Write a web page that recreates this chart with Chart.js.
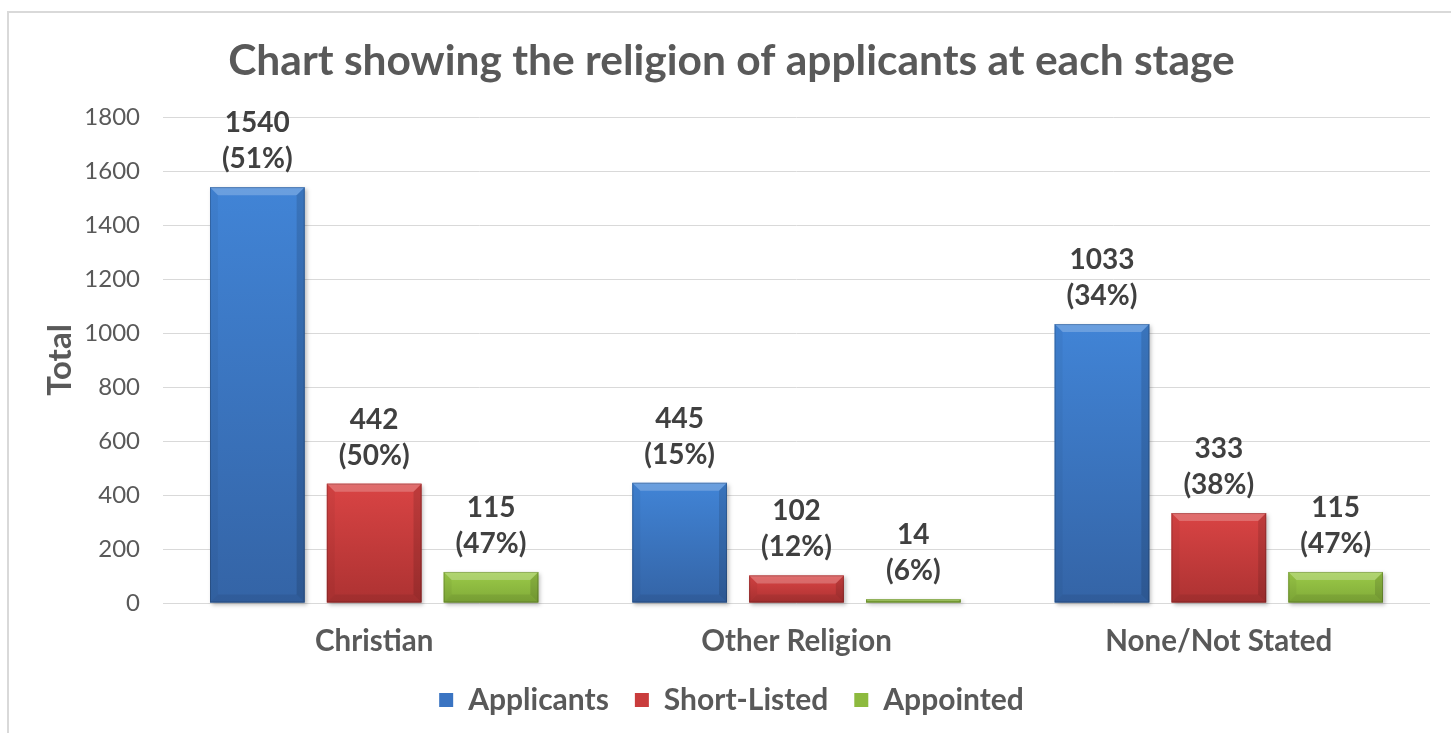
<!DOCTYPE html>
<html>
<head>
<meta charset="utf-8">
<script src="https://cdn.jsdelivr.net/npm/chart.js@4.4.0/dist/chart.umd.min.js"></script>
<style>
  html, body { margin: 0; padding: 0; background: #fff; }
  #wrap { position: relative; width: 1451px; height: 733px; overflow: hidden; }
  #frame { position: absolute; left: 7px; top: 11px; width: 1460px; height: 740px;
           border-left: 2px solid #d9d9d9; border-top: 2px solid #d9d9d9; }
  #religionChart { position: absolute; left: 0; top: 0; }
</style>
</head>
<body>
<div id="wrap">
  <div id="frame"></div>
  <canvas id="religionChart" width="1451" height="733"></canvas>
</div>
<script>
// datos
const categories = ['Christian', 'Other Religion', 'None/Not Stated'];
const applicants = [1540, 445, 1033];
const shortListed = [442, 102, 333];
const appointed = [115, 14, 115];
const applicantsPct = [51, 15, 34];
const shortListedPct = [50, 12, 38];
const appointedPct = [47, 6, 47];
const yTicks = [0, 200, 400, 600, 800, 1000, 1200, 1400, 1600, 1800];

const FONT = 'Lato, "Open Sans", sans-serif';

document.addEventListener('DOMContentLoaded', () => {
    initChart();
});

// 1. Plugin: degradado + bisel tipo Excel sobre cada barra
const bevelPlugin = {
    id: 'bevel',
    afterDatasetsDraw(chart) {
        const ctx = chart.ctx;
        chart.data.datasets.forEach((ds, di) => {
            const meta = chart.getDatasetMeta(di);
            meta.data.forEach(bar => {
                const l = bar.x - bar.width / 2;
                const r = bar.x + bar.width / 2;
                const t = Math.min(bar.y, bar.base);
                const b = Math.max(bar.y, bar.base);
                const h = b - t;
                const s = Math.min(8, h / 2, bar.width / 2);
                ctx.save();
                // cara con sombra
                const g = ctx.createLinearGradient(0, t, 0, b);
                g.addColorStop(0, ds.topColor);
                g.addColorStop(1, ds.bottomColor);
                ctx.shadowColor = 'rgba(0,0,0,0.25)';
                ctx.shadowBlur = 4;
                ctx.shadowOffsetX = 2;
                ctx.shadowOffsetY = 2;
                ctx.fillStyle = g;
                ctx.fillRect(l, t, bar.width, h);
                ctx.shadowColor = 'transparent';
                // top
                ctx.fillStyle = 'rgba(255,255,255,0.22)';
                ctx.beginPath();
                ctx.moveTo(l, t); ctx.lineTo(r, t); ctx.lineTo(r - s, t + s); ctx.lineTo(l + s, t + s);
                ctx.closePath(); ctx.fill();
                // left
                ctx.fillStyle = 'rgba(0,0,0,0.04)';
                ctx.beginPath();
                ctx.moveTo(l, t); ctx.lineTo(l + s, t + s); ctx.lineTo(l + s, b - s); ctx.lineTo(l, b);
                ctx.closePath(); ctx.fill();
                // right
                ctx.fillStyle = 'rgba(0,0,0,0.12)';
                ctx.beginPath();
                ctx.moveTo(r, t); ctx.lineTo(r - s, t + s); ctx.lineTo(r - s, b - s); ctx.lineTo(r, b);
                ctx.closePath(); ctx.fill();
                // bottom
                ctx.fillStyle = 'rgba(0,0,0,0.07)';
                ctx.beginPath();
                ctx.moveTo(l, b); ctx.lineTo(l + s, b - s); ctx.lineTo(r - s, b - s); ctx.lineTo(r, b);
                ctx.closePath(); ctx.fill();
                // borde
                ctx.strokeStyle = 'rgba(0,0,0,0.18)';
                ctx.lineWidth = 1;
                ctx.strokeRect(l + 0.5, t + 0.5, bar.width - 1, h - 1);
                ctx.restore();
            });
        });
    }
};

// 2. Plugin: etiquetas valor + porcentaje
const labelPlugin = {
    id: 'valueLabels',
    afterDatasetsDraw(chart) {
        const ctx = chart.ctx;
        ctx.save();
        ctx.font = 'bold 28px ' + FONT;
        ctx.fillStyle = '#404040';
        ctx.textAlign = 'center';
        ctx.textBaseline = 'middle';
        chart.data.datasets.forEach((ds, di) => {
            const meta = chart.getDatasetMeta(di);
            meta.data.forEach((bar, i) => {
                ctx.fillText(String(ds.data[i]), bar.x, bar.y - 64);
                ctx.fillText('(' + ds.pct[i] + '%)', bar.x, bar.y - 28);
            });
        });
        ctx.restore();
    }
};

function initChart() {
    const ctx = document.getElementById('religionChart');
    if (!ctx) return;

    new Chart(ctx, {
        type: 'bar',
        data: {
            labels: categories,
            datasets: [
                { label: 'Applicants', data: applicants, pct: applicantsPct,
                  backgroundColor: '#3a74c2', topColor: '#4184d6', bottomColor: '#3464a6' },
                { label: 'Short-Listed', data: shortListed, pct: shortListedPct,
                  backgroundColor: '#c93c3c', topColor: '#d94444', bottomColor: '#ad3232' },
                { label: 'Appointed', data: appointed, pct: appointedPct,
                  backgroundColor: '#8dba3e', topColor: '#9bca48', bottomColor: '#80aa38' }
            ]
        },
        options: {
            responsive: false,
            animation: false,
            devicePixelRatio: 1,
            categoryPercentage: 0.83,
            barPercentage: 0.81,
            layout: { padding: { left: 33, right: 21, top: 0, bottom: 8 } },
            plugins: {
                title: {
                    display: true,
                    text: 'Chart showing the religion of applicants at each stage',
                    color: '#595959',
                    font: { family: FONT, size: 42.5, weight: 'bold' },
                    padding: { top: 36, bottom: 30 }
                },
                legend: {
                    position: 'bottom',
                    labels: {
                        color: '#595959',
                        font: { family: FONT, size: 30, weight: 'bold' },
                        boxWidth: 14,
                        boxHeight: 14,
                        padding: 26
                    }
                },
                tooltip: { enabled: false }
            },
            scales: {
                x: {
                    afterFit: axis => { axis.height = 56; },
                    grid: { display: false, drawTicks: false },
                    border: { display: false },
                    ticks: {
                        color: '#595959',
                        font: { family: FONT, size: 29.5, weight: 'bold' },
                        padding: 21
                    }
                },
                y: {
                    min: 0,
                    max: 1800,
                    afterBuildTicks: axis => { axis.ticks = yTicks.map(v => ({ value: v })); },
                    afterFit: axis => { axis.width = 130; },
                    grid: { color: '#d9d9d9', lineWidth: 1, drawTicks: false },
                    border: { display: false },
                    ticks: {
                        color: '#595959',
                        font: { family: FONT, size: 24 },
                        padding: 23,
                        callback: v => String(v)
                    },
                    title: {
                        display: true,
                        text: 'Total',
                        color: '#595959',
                        font: { family: FONT, size: 33, weight: 'bold' },
                        padding: { top: 8, bottom: 0 }
                    }
                }
            }
        },
        plugins: [bevelPlugin, labelPlugin]
    });
}
</script>
</body>
</html>
